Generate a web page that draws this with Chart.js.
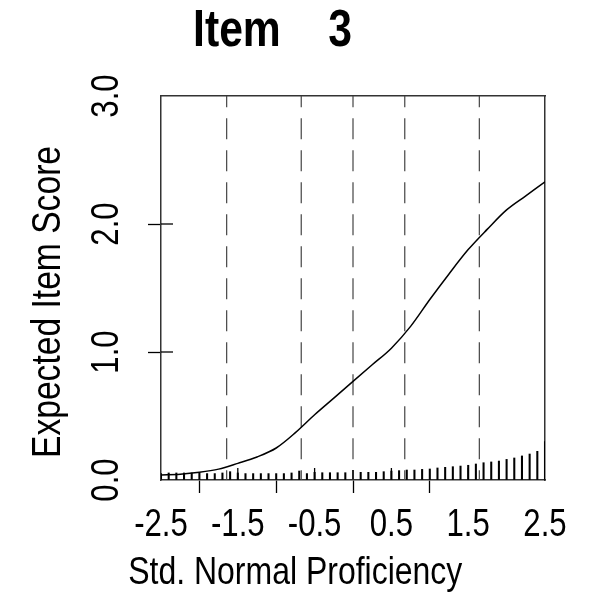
<!DOCTYPE html>
<html>
<head>
<meta charset="utf-8">
<script src="https://cdn.jsdelivr.net/npm/chart.js@4.4.1/dist/chart.umd.min.js"></script>
<style>
  html, body { margin: 0; padding: 0; background: #ffffff; }
  #wrap { width: 590px; height: 599px; }
</style>
</head>
<body>
<div id="wrap"><canvas id="c" width="590" height="599"></canvas></div>
<script>
// ---- data ----
const titleText = 'Item    3';
const xAxisLabel = 'Std. Normal Proficiency             ';
const yAxisLabel = 'Expected Item Score   ';

// expected item score curve
const curveX = [-2.5, -2.25, -2.0, -1.75, -1.5, -1.25, -1.0, -0.75, -0.5, -0.25, 0.0,
                 0.25, 0.5, 0.75, 1.0, 1.25, 1.5, 1.75, 2.0, 2.25, 2.5];
const curveY = [0.04, 0.045, 0.06, 0.085, 0.13, 0.18, 0.25, 0.37, 0.51, 0.64, 0.77,
                0.90, 1.03, 1.20, 1.41, 1.61, 1.80, 1.96, 2.11, 2.22, 2.33];

// dashed reference lines (normal quantiles)
const quantileX = [-1.645, -0.674, 0.0, 0.674, 1.645];
const quantileYRange = [3.0, 0.0];

// rug / distribution spikes along the bottom
const rugX = [-2.5, -2.4, -2.3, -2.2, -2.1, -2.0, -1.9, -1.8, -1.7, -1.6,
              -1.5, -1.4, -1.3, -1.2, -1.1, -1.0, -0.9, -0.8, -0.7, -0.6,
              -0.5, -0.4, -0.3, -0.2, -0.1, 0.0, 0.1, 0.2, 0.3, 0.4,
              0.5, 0.6, 0.7, 0.8, 0.9, 1.0, 1.1, 1.2, 1.3, 1.4,
              1.5, 1.6, 1.7, 1.8, 1.9, 2.0, 2.1, 2.2, 2.3, 2.4, 2.5];
const rugY = [0.05, 0.055, 0.055, 0.055, 0.055, 0.055, 0.05, 0.05, 0.055, 0.065,
              0.055, 0.05, 0.05, 0.05, 0.05, 0.05, 0.05, 0.055, 0.07, 0.05,
              0.06, 0.057, 0.057, 0.057, 0.057, 0.075, 0.06, 0.06, 0.06, 0.065,
              0.07, 0.073, 0.078, 0.078, 0.083, 0.086, 0.094, 0.099, 0.104, 0.109,
              0.115, 0.125, 0.135, 0.141, 0.148, 0.161, 0.172, 0.188, 0.203, 0.224, 0.30];

const xRange = [-2.5, 2.5];
const yRange = [0.0, 3.0];

// ---- chart ----
const FONT = "'Liberation Sans', Arial, sans-serif";
const NARROW = 0.82;   // horizontal squeeze, gives the narrow Helvetica look

const canvas = document.getElementById('c');
const ctx2d = canvas.getContext('2d');
const origFillText = ctx2d.fillText.bind(ctx2d);
ctx2d.fillText = function (text, x, y) {
  this.save();
  this.translate(x, y);
  this.scale(NARROW, 1);
  origFillText(text, 0, 0);
  this.restore();
};

const innerTicks = {
  id: 'innerTicks',
  afterDatasetsDraw(chart) {
    const { ctx, chartArea, scales } = chart;
    const xs = scales.x, ys = scales.y;
    ctx.save();
    ctx.strokeStyle = '#000';
    ctx.lineWidth = 1.3;
    xs.ticks.forEach(t => {
      if (t.value <= xs.min || t.value >= xs.max) return;
      const p = xs.getPixelForValue(t.value);
      ctx.beginPath(); ctx.moveTo(p, chartArea.bottom); ctx.lineTo(p, chartArea.bottom - 12); ctx.stroke();
    });
    ys.ticks.forEach(t => {
      if (t.value <= ys.min || t.value >= ys.max) return;
      const p = ys.getPixelForValue(t.value);
      ctx.beginPath(); ctx.moveTo(chartArea.left, p); ctx.lineTo(chartArea.left + 12, p); ctx.stroke();
    });
    ctx.restore();
  }
};

const datasets = [];
datasets.push({
  type: 'line',
  data: curveX.map((x, i) => ({ x: x, y: curveY[i] })),
  borderColor: '#000',
  borderWidth: 1.5,
  pointRadius: 0,
  cubicInterpolationMode: 'monotone',
  fill: false
});
quantileX.forEach(q => {
  datasets.push({
    type: 'line',
    data: quantileYRange.map(v => ({ x: q, y: v })),
    borderColor: '#444',
    borderWidth: 1.2,
    borderDash: [21, 11],
    borderDashOffset: 9.7,
    pointRadius: 0,
    fill: false
  });
});
datasets.push({
  type: 'bar',
  data: rugX.map((x, i) => ({ x: x, y: rugY[i] })),
  backgroundColor: '#000',
  borderWidth: 0,
  barThickness: 1.4
});

const edgeTransparent = (range) => (c) => {
  const v = c.tick ? c.tick.value : null;
  return (v === null || v <= range[0] || v >= range[1]) ? 'rgba(0,0,0,0)' : '#000';
};

new Chart(canvas, {
  type: 'line',
  data: { datasets },
  plugins: [innerTicks],
  options: {
    responsive: false,
    animation: false,
    layout: { padding: { left: 0, right: 45, top: 0, bottom: 0 } },
    plugins: {
      legend: { display: false },
      tooltip: { enabled: false },
      title: {
        display: true,
        text: titleText,
        color: '#000',
        font: { family: FONT, size: 52, weight: 'bold', lineHeight: 1.2 },
        padding: { top: 0, bottom: 33.6 }
      }
    },
    scales: {
      x: {
        type: 'linear',
        position: 'bottom',
        min: xRange[0], max: xRange[1],
        offset: false,
        afterFit: s => { s.height = 119; },
        ticks: {
          stepSize: 1,
          autoSkip: false,
          maxRotation: 0,
          padding: 10,
          color: '#000',
          font: { family: FONT, size: 38 },
          callback: v => Number(v).toFixed(1)
        },
        grid: {
          drawOnChartArea: false,
          tickLength: 13,
          tickWidth: 1.3,
          tickColor: edgeTransparent(xRange)
        },
        border: { display: true, color: '#333', width: 1.5 },
        title: {
          display: true, text: xAxisLabel, color: '#000',
          font: { family: FONT, size: 39, lineHeight: 1.2 },
          padding: { top: 0, bottom: 2 }
        }
      },
      y: {
        type: 'linear',
        position: 'left',
        min: yRange[0], max: yRange[1],
        afterFit: s => { s.width = 161; },
        ticks: {
          stepSize: 1,
          autoSkip: false,
          minRotation: 90, maxRotation: 90,
          crossAlign: 'center',
          padding: 14.5,
          color: '#000',
          font: { family: FONT, size: 38 },
          callback: v => Number(v).toFixed(1)
        },
        grid: {
          drawOnChartArea: false,
          tickLength: 13,
          tickWidth: 1.3,
          tickColor: edgeTransparent(yRange)
        },
        border: { display: true, color: '#333', width: 1.5 },
        title: {
          display: true, text: yAxisLabel, color: '#000',
          font: { family: FONT, size: 41, lineHeight: 1.2 },
          padding: { top: 24, bottom: 0 }
        }
      },
      x2: {
        type: 'linear', position: 'top', min: xRange[0], max: xRange[1],
        afterFit: s => { s.height = 0; },
        ticks: { display: false },
        grid: { drawOnChartArea: false, drawTicks: false },
        border: { display: true, color: '#333', width: 1.5 }
      },
      y2: {
        type: 'linear', position: 'right', min: yRange[0], max: yRange[1],
        afterFit: s => { s.width = 0; },
        ticks: { display: false },
        grid: { drawOnChartArea: false, drawTicks: false },
        border: { display: true, color: '#333', width: 1.5 }
      }
    }
  }
});
</script>
</body>
</html>
